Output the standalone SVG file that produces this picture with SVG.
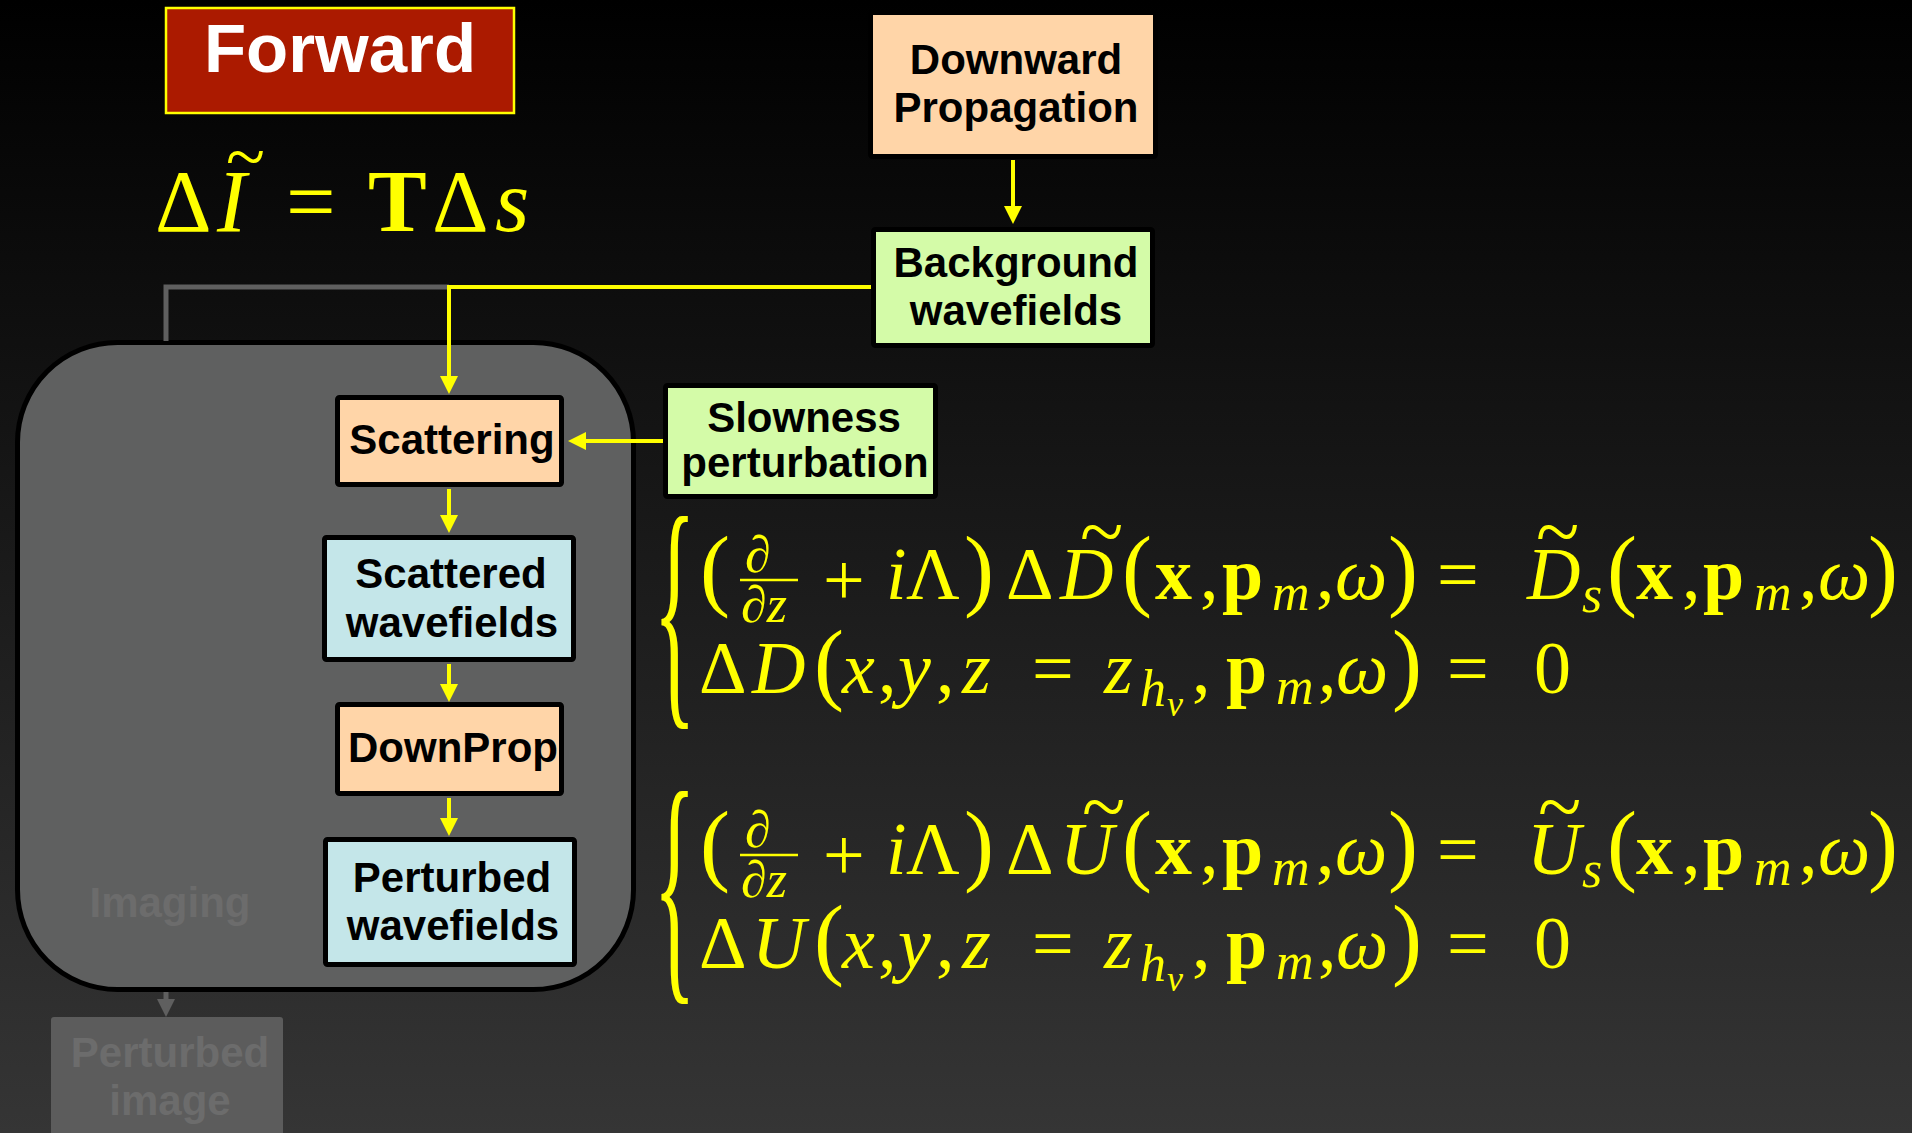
<svg xmlns="http://www.w3.org/2000/svg" width="1912" height="1133" viewBox="0 0 1912 1133">
<defs>
<linearGradient id="bg" x1="0" y1="0" x2="0" y2="1">
<stop offset="0" stop-color="#000"/>
<stop offset="1" stop-color="#353535"/>
</linearGradient>
<marker id="ya" markerUnits="userSpaceOnUse" markerWidth="18" markerHeight="18" refX="2" refY="9" orient="auto">
<path d="M0,0 L18,9 L0,18 z" fill="#ff0"/>
</marker>
<marker id="ga" markerUnits="userSpaceOnUse" markerWidth="18" markerHeight="18" refX="2" refY="9" orient="auto">
<path d="M0,0 L18,9 L0,18 z" fill="#5f5f5f"/>
</marker>
<style>
.box{stroke:#000;stroke-width:5}
.peach{fill:#ffd5a8}
.green{fill:#d4fba8}
.blue{fill:#c4e6e9}
.lbl{font-family:"Liberation Sans",Arial,sans-serif;font-weight:bold;font-size:42px;fill:#000;text-anchor:middle}
.ghost{font-family:"Liberation Sans",Arial,sans-serif;font-weight:bold;font-size:42px;fill:#6c6c6c;text-anchor:middle}
.math{font-family:"Liberation Serif","Times New Roman",serif;fill:#ff0;font-size:74px}
.it{font-style:italic}
.bf{font-weight:bold}
.big{font-size:90px}
.sub{font-size:52px}
.ssub{font-size:36px}
.yl{stroke:#ff0;stroke-width:4;fill:none}
.gl{stroke:#5f5f5f;stroke-width:5;fill:none}
</style>
</defs>
<rect x="0" y="0" width="1912" height="1133" fill="url(#bg)"/>

<g id="imaging-group">
<rect x="17.5" y="342.5" width="616" height="647" rx="100" ry="100" fill="#5f6060" stroke="#000" stroke-width="5"/>
<text class="ghost" x="170" y="917">Imaging</text>
</g>

<g id="connectors">
<polyline class="gl" points="166,341 166,287 449,287"/>
<line class="gl" x1="166" y1="992" x2="166" y2="1001" marker-end="url(#ga)"/>
<line class="yl" x1="1013" y1="160" x2="1013" y2="208" marker-end="url(#ya)"/>
<polyline class="yl" points="871,287 449,287 449,378" marker-end="url(#ya)"/>
<line class="yl" x1="663" y1="441" x2="584" y2="441" marker-end="url(#ya)"/>
<line class="yl" x1="449" y1="489" x2="449" y2="517" marker-end="url(#ya)"/>
<line class="yl" x1="449" y1="664" x2="449" y2="686" marker-end="url(#ya)"/>
<line class="yl" x1="449" y1="798" x2="449" y2="820" marker-end="url(#ya)"/>
</g>

<g id="forward-title">
<rect x="166" y="8" width="348" height="105" fill="#ab1a00" stroke="#ff0" stroke-width="2.5"/>
<text x="340" y="72" font-family="'Liberation Sans',Arial,sans-serif" font-weight="bold" font-size="69" fill="#fff" text-anchor="middle">Forward</text>
</g>

<g id="eq-main" class="math" font-size="88">
<text x="155" y="231" font-size="88">Δ</text>
<text x="217" y="231" font-size="88" font-style="italic">I</text>
<text x="226" y="181" font-size="72">~</text>
<text x="286" y="231" font-size="88">=</text>
<text x="368" y="231" font-size="88" font-weight="bold">T</text>
<text x="432" y="231" font-size="88">Δ</text>
<text x="495" y="231" font-size="88" font-style="italic">s</text>
</g>

<g id="downward-propagation">
<rect class="box peach" x="870.5" y="12.5" width="285" height="144" rx="2"/>
<text class="lbl" x="1016" y="74">Downward</text>
<text class="lbl" x="1016" y="122">Propagation</text>
</g>

<g id="background-wavefields">
<rect class="box green" x="873.5" y="229.5" width="279" height="116" rx="2"/>
<text class="lbl" x="1016" y="277">Background</text>
<text class="lbl" x="1016" y="325">wavefields</text>
</g>

<g id="slowness-perturbation">
<rect class="box green" x="665.5" y="385.5" width="270" height="111" rx="2"/>
<text class="lbl" x="804" y="432">Slowness</text>
<text class="lbl" x="805" y="477">perturbation</text>
</g>

<g id="scattering">
<rect class="box peach" x="337.5" y="397.5" width="224" height="87" rx="2"/>
<text class="lbl" x="452" y="454">Scattering</text>
</g>

<g id="scattered-wavefields">
<rect class="box blue" x="324.5" y="537.5" width="249" height="122" rx="2"/>
<text class="lbl" x="451" y="588">Scattered</text>
<text class="lbl" x="452" y="637">wavefields</text>
</g>

<g id="downprop">
<rect class="box peach" x="337.5" y="704.5" width="224" height="89" rx="2"/>
<text class="lbl" x="453" y="762">DownProp</text>
</g>

<g id="perturbed-wavefields">
<rect class="box blue" x="325.5" y="839.5" width="249" height="125" rx="2"/>
<text class="lbl" x="452" y="892">Perturbed</text>
<text class="lbl" x="453" y="940">wavefields</text>
</g>

<g id="perturbed-image">
<rect x="51" y="1017" width="232" height="140" rx="3" fill="#5c5c5c"/>
<text class="ghost" x="170" y="1067">Perturbed</text>
<text class="ghost" x="170" y="1115">image</text>
</g>

<g id="eq-D" class="math">
<text x="594" y="217.2" transform="scale(1.1,3.2)" font-size="80">{</text>
<text x="700" y="599" class="big">(</text>
<text x="745" y="572" class="sub it">∂</text>
<line x1="740" y1="580" x2="798" y2="580" stroke="#ff0" stroke-width="2.5"/>
<text x="741" y="622" class="sub it">∂z</text>
<text x="823" y="605">+</text>
<text x="886" y="599" class="it">i</text>
<text x="906" y="599">Λ</text>
<text x="964" y="599" class="big">)</text>
<text x="1006" y="599">Δ</text>
<text x="1060" y="599" class="it">D</text>
<text x="1080" y="559" font-size="80">~</text>
<text x="1122" y="599" class="big">(</text>
<text x="1155" y="599" class="bf">x</text>
<text x="1200" y="599">,</text>
<text x="1222" y="599" class="bf">p</text>
<text x="1272" y="610" class="sub it">m</text>
<text x="1316" y="599">,</text>
<text x="1335" y="599" class="it">ω</text>
<text x="1388" y="599" class="big">)</text>
<text x="1437" y="599">=</text>
<text x="1527" y="599" class="it">D</text>
<text x="1536" y="559" font-size="80">~</text>
<text x="1582" y="612" class="sub it">s</text>
<text x="1607" y="599" class="big">(</text>
<text x="1636" y="599" class="bf">x</text>
<text x="1682" y="599">,</text>
<text x="1703" y="599" class="bf">p</text>
<text x="1754" y="610" class="sub it">m</text>
<text x="1799" y="599">,</text>
<text x="1818" y="599" class="it">ω</text>
<text x="1868" y="599" class="big">)</text>
<text x="699" y="693">Δ</text>
<text x="752" y="693" class="it">D</text>
<text x="814" y="693" class="big">(</text>
<text x="842" y="693" class="it">x</text>
<text x="878" y="693">,</text>
<text x="898" y="693" class="it">y</text>
<text x="936" y="693">,</text>
<text x="962" y="693" class="it">z</text>
<text x="1032" y="693">=</text>
<text x="1104" y="693" class="it">z</text>
<text x="1140" y="706" class="sub it">h</text>
<text x="1167" y="716" class="ssub it">v</text>
<text x="1192" y="693">,</text>
<text x="1226" y="693" class="bf">p</text>
<text x="1276" y="704" class="sub it">m</text>
<text x="1318" y="693">,</text>
<text x="1336" y="693" class="it">ω</text>
<text x="1392" y="693" class="big">)</text>
<text x="1447" y="693">=</text>
<text x="1534" y="693">0</text>
</g>

<g id="eq-U" class="math" transform="translate(0,275)">
<text x="594" y="217.2" transform="scale(1.1,3.2)" font-size="80">{</text>
<text x="700" y="599" class="big">(</text>
<text x="745" y="572" class="sub it">∂</text>
<line x1="740" y1="580" x2="798" y2="580" stroke="#ff0" stroke-width="2.5"/>
<text x="741" y="622" class="sub it">∂z</text>
<text x="823" y="605">+</text>
<text x="886" y="599" class="it">i</text>
<text x="906" y="599">Λ</text>
<text x="964" y="599" class="big">)</text>
<text x="1006" y="599">Δ</text>
<text x="1060" y="599" class="it">U</text>
<text x="1082" y="559" font-size="80">~</text>
<text x="1122" y="599" class="big">(</text>
<text x="1155" y="599" class="bf">x</text>
<text x="1200" y="599">,</text>
<text x="1222" y="599" class="bf">p</text>
<text x="1272" y="610" class="sub it">m</text>
<text x="1316" y="599">,</text>
<text x="1335" y="599" class="it">ω</text>
<text x="1388" y="599" class="big">)</text>
<text x="1437" y="599">=</text>
<text x="1527" y="599" class="it">U</text>
<text x="1538" y="559" font-size="80">~</text>
<text x="1582" y="612" class="sub it">s</text>
<text x="1607" y="599" class="big">(</text>
<text x="1636" y="599" class="bf">x</text>
<text x="1682" y="599">,</text>
<text x="1703" y="599" class="bf">p</text>
<text x="1754" y="610" class="sub it">m</text>
<text x="1799" y="599">,</text>
<text x="1818" y="599" class="it">ω</text>
<text x="1868" y="599" class="big">)</text>
<text x="699" y="693">Δ</text>
<text x="752" y="693" class="it">U</text>
<text x="814" y="693" class="big">(</text>
<text x="842" y="693" class="it">x</text>
<text x="878" y="693">,</text>
<text x="898" y="693" class="it">y</text>
<text x="936" y="693">,</text>
<text x="962" y="693" class="it">z</text>
<text x="1032" y="693">=</text>
<text x="1104" y="693" class="it">z</text>
<text x="1140" y="706" class="sub it">h</text>
<text x="1167" y="716" class="ssub it">v</text>
<text x="1192" y="693">,</text>
<text x="1226" y="693" class="bf">p</text>
<text x="1276" y="704" class="sub it">m</text>
<text x="1318" y="693">,</text>
<text x="1336" y="693" class="it">ω</text>
<text x="1392" y="693" class="big">)</text>
<text x="1447" y="693">=</text>
<text x="1534" y="693">0</text>
</g>
</svg>
